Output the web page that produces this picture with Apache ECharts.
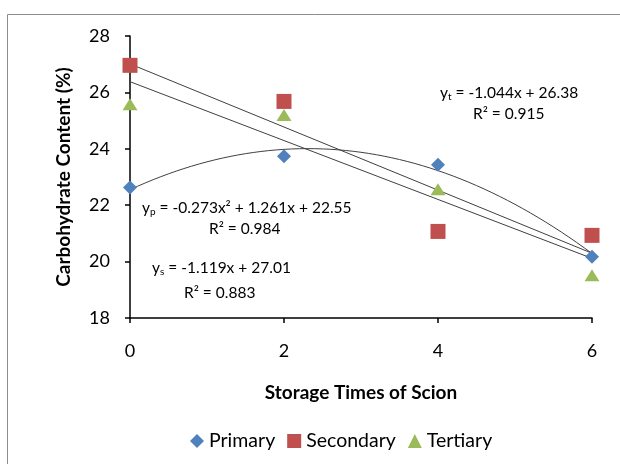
<!DOCTYPE html>
<html><head><meta charset="utf-8">
<script src="https://cdn.jsdelivr.net/npm/echarts@6/dist/echarts.min.js"></script>
<style>html,body{margin:0;padding:0;background:#fff}#c{width:620px;height:464px}</style>
</head><body><div id="c"></div>
<script>
// Data
const times = [0, 2, 4, 6];
const primary = [22.63, 23.74, 23.43, 20.17];
const secondary = [26.96, 25.68, 21.07, 20.93];
const tertiary = [25.58, 25.2, 22.57, 19.52];
// Trendline coefficients as printed on the chart
const primaryFit = [22.55, 1.261, -0.273];   // c0, c1, c2
const secondaryFit = [27.01, -1.119];
const tertiaryFit = [26.38, -1.044];
const r2 = { p: '0.984', s: '0.883', t: '0.915' };
const yTicks = [18, 20, 22, 24, 26, 28];

function poly(c, x) { let s = 0; for (let i = 0; i < c.length; i++) s += c[i] * Math.pow(x, i); return +s.toFixed(4); }
function curve(c, steps) {
  const out = [];
  for (let i = 0; i <= steps; i++) { const x = times[0] + (times[times.length-1] - times[0]) * i / steps; out.push([x, poly(c, x)]); }
  return out;
}
const pair = (xs, ys) => xs.map((x, i) => [x, ys[i]]);

const FONT = 'Lato';
const chart = echarts.init(document.getElementById('c'));
const trendStyle = { color: '#404040', width: 1 };
const trend = (data) => ({ type: 'line', data, showSymbol: false, symbol: 'none', lineStyle: trendStyle, silent: true, z: 1, legendHoverLink: false });
const sub = { fontSize: 10, fontFamily: FONT, color: '#000', verticalAlign: 'bottom', padding: [8, 0, 0, 0] };
const txt = { fontSize: 15.5, fontFamily: FONT, color: '#000' };

chart.setOption({
  animation: false,
  backgroundColor: '#fff',
  grid: { left: 130, right: 28, top: 36, bottom: 146 },
  xAxis: {
    type: 'value', min: 0, max: 6, interval: 2,
    name: 'Storage Times of Scion', nameLocation: 'middle', nameGap: 65,
    nameTextStyle: { fontFamily: FONT, fontWeight: 'bold', fontSize: 19, color: '#000' },
    axisLine: { lineStyle: { color: '#000', width: 1.5 } },
    axisTick: { show: true, length: 5, lineStyle: { color: '#000', width: 1.5 } },
    axisLabel: { margin: 24, fontFamily: FONT, fontSize: 18, color: '#000' },
    splitLine: { show: false }
  },
  yAxis: {
    type: 'value', min: yTicks[0], max: yTicks[yTicks.length-1], interval: 2,
    name: 'Carbohydrate Content (%)', nameLocation: 'middle', nameGap: 57,
    nameTextStyle: { fontFamily: FONT, fontWeight: 'bold', fontSize: 19, color: '#000' },
    axisLine: { show: true, lineStyle: { color: '#000', width: 1.5 } },
    axisTick: { show: true, length: 5, lineStyle: { color: '#000', width: 1.5 } },
    axisLabel: { margin: 20, fontFamily: FONT, fontSize: 18, color: '#000' },
    splitLine: { show: false }
  },
  legend: {
    left: 185, top: 426, itemWidth: 14, itemHeight: 14, itemGap: 12,
    textStyle: { fontFamily: FONT, fontSize: 19.5, color: '#000' },
    data: [
      { name: 'Primary', icon: 'diamond' },
      { name: 'Secondary', icon: 'rect' },
      { name: 'Tertiary', icon: 'triangle' }
    ]
  },
  graphic: [
    { type: 'rect', shape: { x: 7.5, y: 14.5, width: 800, height: 600 }, style: { fill: 'none', stroke: '#8c8c8c', lineWidth: 1 }, silent: true, z: -10 },
    { type: 'text', left: 440, top: 85, style: { text: '{m|y}{s|t}{m| = -1.044x + 26.38}', rich: { m: txt, s: sub } } },
    { type: 'text', left: 473, top: 106, style: { text: 'R² = ' + r2.t, ...txt } },
    { type: 'text', left: 142, top: 200, style: { text: '{m|y}{s|p}{m| = -0.273x² + 1.261x + 22.55}', rich: { m: txt, s: sub } } },
    { type: 'text', left: 209, top: 221, style: { text: 'R² = ' + r2.p, ...txt } },
    { type: 'text', left: 152, top: 260, style: { text: '{m|y}{s|s}{m| = -1.119x + 27.01}', rich: { m: txt, s: sub } } },
    { type: 'text', left: 184, top: 285, style: { text: 'R² = ' + r2.s, ...txt } }
  ],
  series: [
    trend(curve(primaryFit, 60)),
    trend(curve(secondaryFit, 1)),
    trend(curve(tertiaryFit, 1)),
    { name: 'Primary', type: 'scatter', symbol: 'diamond', symbolSize: [14, 14], data: pair(times, primary), itemStyle: { color: '#4F81BD', opacity: 1 }, z: 3 },
    { name: 'Secondary', type: 'scatter', symbol: 'rect', symbolSize: [15, 15], data: pair(times, secondary), itemStyle: { color: '#C0504D', opacity: 1 }, z: 3 },
    { name: 'Tertiary', type: 'scatter', symbol: 'triangle', symbolSize: [15, 12], data: pair(times, tertiary), itemStyle: { color: '#9BBB59', opacity: 1 }, z: 3 }
  ]
});
</script></body></html>
